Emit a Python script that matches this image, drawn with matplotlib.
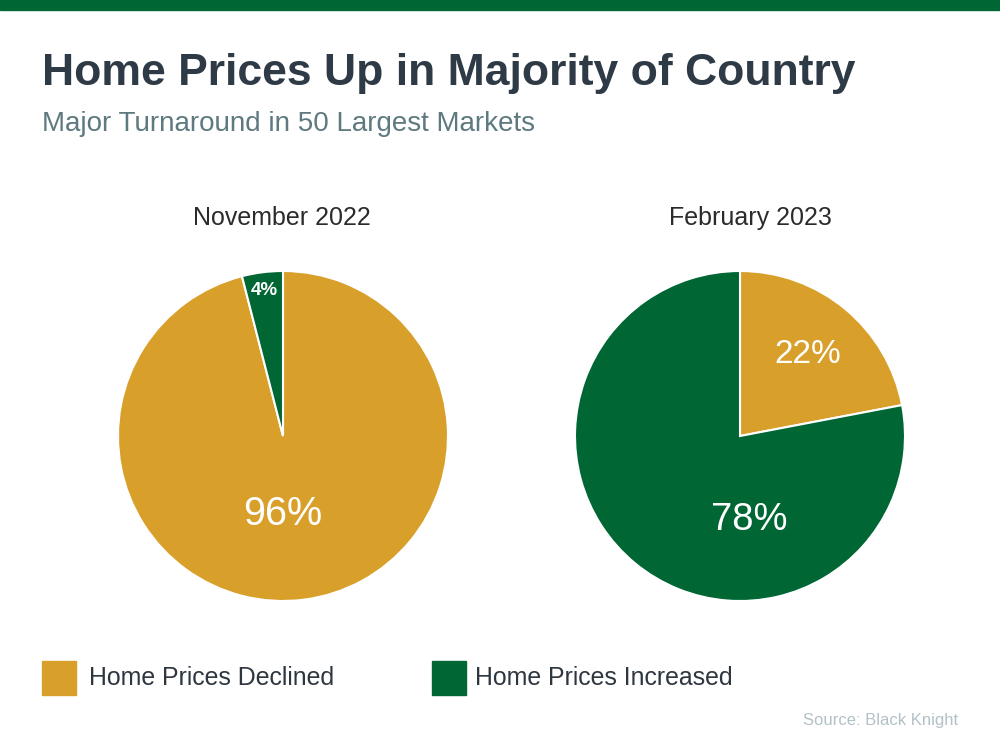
import matplotlib
matplotlib.use("Agg")
import matplotlib.pyplot as plt
import numpy as np

plt.rcParams['font.family'] = ['Liberation Sans', 'DejaVu Sans']

title = "Home Prices Up in Majority of Country"
subtitle = "Major Turnaround in 50 Largest Markets"
categories = ["Home Prices Declined", "Home Prices Increased"]
periods = ["November 2022", "February 2023"]
nov_2022 = [96, 4]
feb_2023 = [22, 78]
source = "Source: Black Knight"

GOLD = "#D8A02B"
GREEN = "#006634"
colors = [GOLD, GREEN]

fig = plt.figure(figsize=(10, 7.5), dpi=100)
W, H = 1000, 750

def fx(px):
    return px / W

def fy(py):
    return 1 - py / H

# top bar
fig.patches.append(plt.Rectangle((0, fy(10)), 1, 10 / H, transform=fig.transFigure,
                                 color=GREEN, zorder=0))

fig.text(fx(42), fy(74), title, fontsize=32, fontweight='bold', color='#2E3A45',
         va='center', ha='left')
fig.text(fx(42), fy(124), subtitle, fontsize=20, color='#5E7A80', va='center', ha='left')

# (distance, angle in deg or None for wedge mid-angle, fontsize, weight)
label_specs = [
    [(0.47, -90, 28.5, 'normal'), (0.89, None, 13.5, 'bold')],
    [(0.64, None, 24, 'normal'), (0.51, -84, 27.5, 'normal')],
]
title_x = [282, 750]

for i, (vals, period) in enumerate(zip([nov_2022, feb_2023], periods)):
    cx = [283, 740][i]
    cy = 436
    r = 165
    ax = fig.add_axes([fx(cx - r), fy(cy + r), 2 * r / W, 2 * r / H])
    wedges, _ = ax.pie(vals, colors=colors, startangle=90, counterclock=False,
                       wedgeprops=dict(edgecolor='white', linewidth=1.5))
    ax.set_xlim(-1.0, 1.0)
    ax.set_ylim(-1.0, 1.0)
    ax.set_aspect('equal')
    for w, v, (dist, angd, fs, fw) in zip(wedges, vals, label_specs[i]):
        if angd is None:
            angd = (w.theta1 + w.theta2) / 2
        ang = np.deg2rad(angd)
        ax.text(dist * np.cos(ang), dist * np.sin(ang), f"{v}%", ha='center', va='center',
                color='white', fontsize=fs, fontweight=fw)
    fig.text(fx(title_x[i]), fy(218), period, fontsize=18, color='#2B2B2B',
             ha='center', va='center')

# legend
for j, (lx, tx, cat) in enumerate(zip([42, 432], [89, 475], categories)):
    fig.patches.append(plt.Rectangle((fx(lx), fy(695)), 34 / W, 34 / H,
                                     transform=fig.transFigure, color=colors[j]))
    fig.text(fx(tx), fy(678), cat, fontsize=17.9, color='#2E3640', va='center', ha='left')

fig.text(fx(958), fy(721), source, fontsize=12, color='#B3C1C7', ha='right', va='center')

fig.savefig("out.png", dpi=100)
